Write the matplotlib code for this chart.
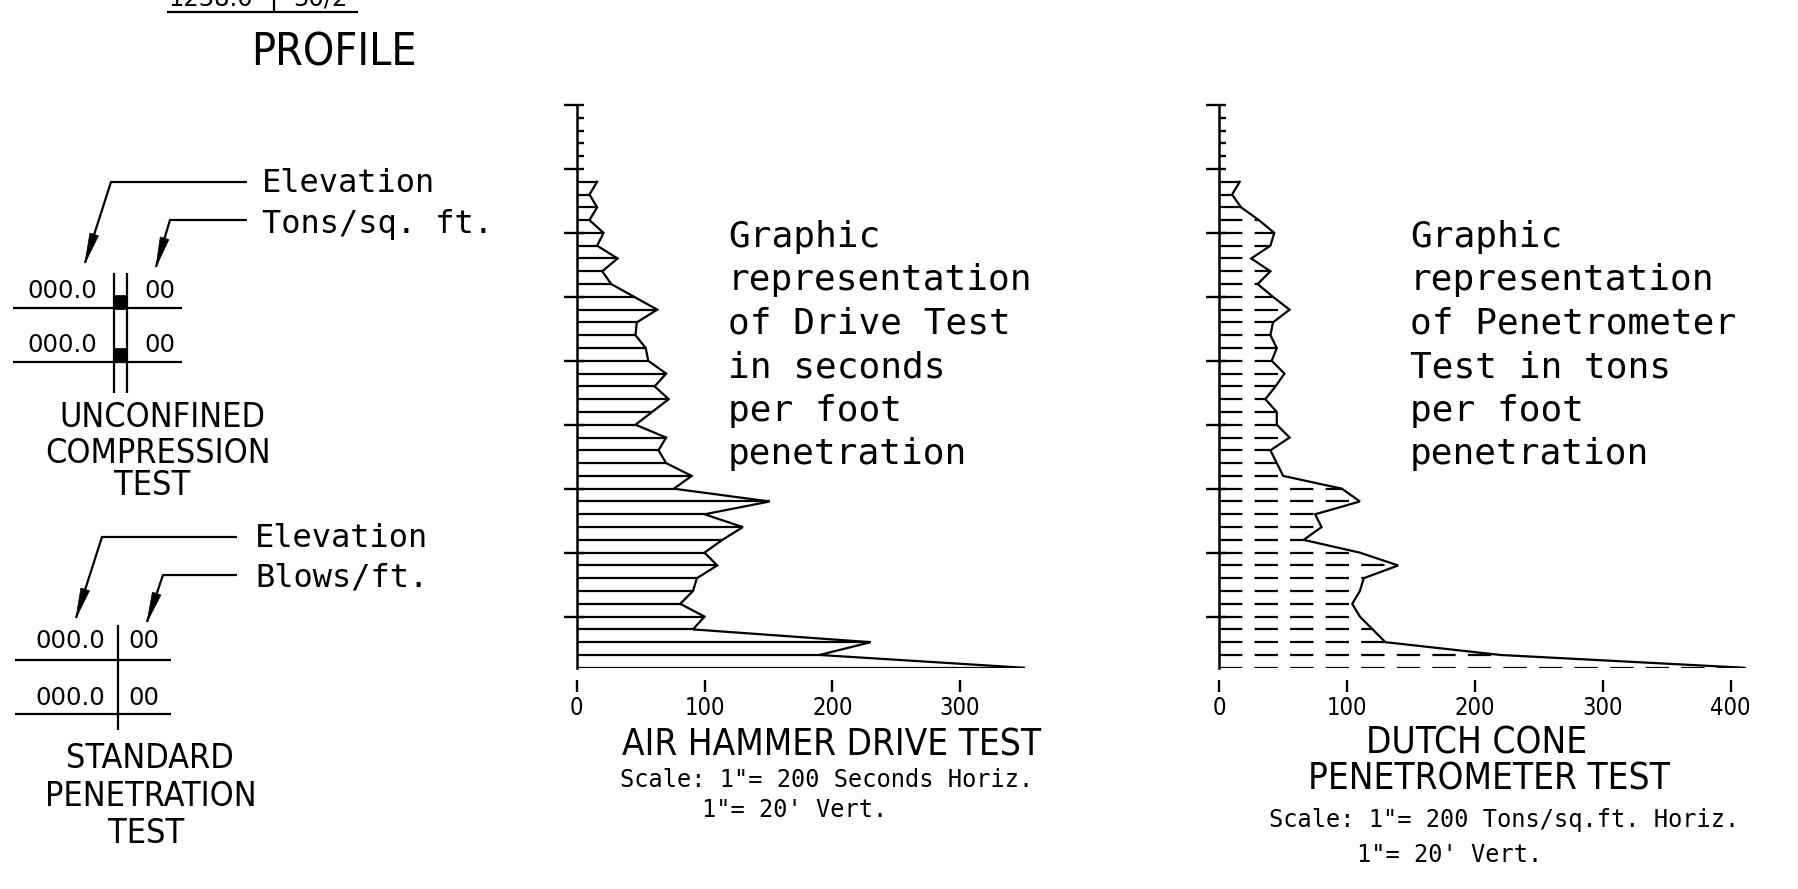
import matplotlib
matplotlib.use("Agg")
import matplotlib.pyplot as plt
from matplotlib import font_manager
from matplotlib.patches import Polygon, Rectangle
import numpy as np

plt.rcParams['lines.scale_dashes'] = False

W, H = 1798, 889

# one reading per foot, depth measured from top of the graph scale
depths = list(range(6, 45))
drive_seconds = [16, 10, 16, 10, 21, 16, 32, 20, 27, 45,
                 63, 47, 46, 54, 56, 70, 61, 72, 59, 46,
                 70, 64, 70, 90, 76, 151, 100, 130, 114, 100,
                 110, 94, 91, 81, 100, 91, 230, 190, 350]
cone_tons = [16, 10, 17, 31, 43, 40, 25, 40, 30, 42,
             55, 42, 40, 45, 41, 51, 44, 36, 45, 45,
             55, 40, 45, 50, 96, 110, 75, 80, 66, 110,
             140, 113, 110, 104, 110, 120, 130, 220, 411]
drive_ticks = [0, 100, 200, 300]
cone_ticks = [0, 100, 200, 300, 400]
major_depths = list(range(0, 41, 5))
minor_depths = [1, 2, 3, 4] + major_depths

drive_note = ["Graphic", "representation", "of Drive Test",
              "in seconds", "per foot", "penetration"]
cone_note = ["Graphic", "representation", "of Penetrometer",
             "Test in tons", "per foot", "penetration"]


def condensed_font():
    fonts = font_manager.fontManager.ttflist
    for f in fonts:
        if f.name == 'DejaVu Sans' and f.stretch == 'condensed':
            return dict(fontfamily='DejaVu Sans', fontstretch='condensed')
    names = {f.name for f in fonts}
    for n in ('Liberation Sans Narrow', 'Roboto Condensed', 'Open Sans Condensed'):
        if n in names:
            return dict(fontfamily=n)
    return dict(fontfamily='DejaVu Sans')


COND = condensed_font()
MONO = dict(fontfamily='DejaVu Sans Mono')
SANS = dict(fontfamily='DejaVu Sans')

PX = 1.278    # pixels per unit horizontally
PY = 12.79    # pixels per foot
Y_TOP, Y_BOT = 105, 105 + 44 * PY
LW = 1.6

fig = plt.figure(figsize=(W / 100, H / 100), dpi=100)
fig.patch.set_facecolor('white')

ov = fig.add_axes([0, 0, 1, 1])
ov.set_xlim(0, W)
ov.set_ylim(H, 0)
ov.axis('off')


def profile_axes(x0, values, ticks, dashed):
    ax = fig.add_axes([x0 / W, (H - Y_BOT) / H, 420 * PX / W, 44 * PY / H])
    ax.set_xlim(0, 420)
    ax.set_ylim(44, 0)
    ax.patch.set_visible(False)
    for s in ('top', 'right', 'bottom'):
        ax.spines[s].set_visible(False)
    ax.spines['bottom'].set_position(('outward', 12 * 0.72))
    ax.spines['left'].set_linewidth(1.8)

    ls = (0, (16.8, 8.8)) if dashed else 'solid'
    ax.hlines(depths, 0, values, colors='k', lw=LW, linestyles=ls)
    ax.plot(values, depths, color='k', lw=LW, solid_joinstyle='miter')

    ax.set_yticks(major_depths)
    ax.set_yticks(minor_depths, minor=True)
    ax.yaxis.remove_overlapping_locs = False
    ax.tick_params(axis='y', which='major', direction='out', length=9.6,
                   width=1.7, labelleft=False)
    ax.tick_params(axis='y', which='minor', direction='in', length=4.8,
                   width=1.7, labelleft=False)
    ax.set_xticks(ticks, [str(t) for t in ticks], fontsize=17, **COND)
    ax.tick_params(axis='x', direction='out', length=8.6, width=1.7, pad=3.2)
    return ax


profile_axes(576.7, drive_seconds, drive_ticks, dashed=False)
profile_axes(1219.3, cone_tons, cone_ticks, dashed=True)


def txt(x, y, s, size, font, ha='left'):
    ov.text(x, y, s, fontsize=size, ha=ha, va='baseline', color='k', **font)


def line(xs, ys, lw=LW):
    ov.plot(xs, ys, color='k', lw=lw, solid_joinstyle='miter', solid_capstyle='butt')


def leader(x_start, y, x_knee, tip):
    line([x_start, x_knee, tip[0]], [y, y, tip[1]])
    d = np.array([tip[0] - x_knee, tip[1] - y], float)
    u = d / np.hypot(*d)
    p = np.array([-u[1], u[0]])
    t = np.array(tip, float)
    base = t - 30 * u
    ov.add_patch(Polygon([t, base + 4.5 * p, base - 4.5 * p], closed=True,
                         facecolor='k', edgecolor='k', lw=0.5))


# cut-off profile table at the very top
line([167, 358], [12.3, 12.3])
line([274, 274], [0, 12.3])
txt(253, 6, "1238.0", 17.5, SANS, ha='right')
txt(293, 6, "30/2", 17.5, SANS)
txt(334, 65, "PROFILE", 32, COND, ha='center')

# unconfined compression legend
txt(262, 192, "Elevation", 23, MONO)
txt(262, 233, "Tons/sq. ft.", 23, MONO)
leader(247, 182, 111, (85, 263))
leader(247, 220, 170, (156, 267))
for yb in (298, 352):
    txt(97, yb, "000.0", 17.5, SANS, ha='right')
    txt(144, yb, "00", 17.5, SANS)
for yl in (308, 362):
    line([13, 182], [yl, yl])
line([114, 114], [273, 393])
line([127, 127], [273, 393])
for y0 in (295, 348):
    ov.add_patch(Rectangle((114, y0), 13, 13.5, facecolor='k', edgecolor='k', lw=0.5))
txt(162, 427, "UNCONFINED", 24.5, COND, ha='center')
txt(158, 463, "COMPRESSION", 24.5, COND, ha='center')
txt(152, 495, "TEST", 24.5, COND, ha='center')

# standard penetration legend
txt(255, 547, "Elevation", 23, MONO)
txt(255, 587, "Blows/ft.", 23, MONO)
leader(237, 537, 102, (76, 618))
leader(237, 575, 163, (147, 622))
for yb in (648, 705):
    txt(105, yb, "000.0", 17.5, SANS, ha='right')
    txt(128, yb, "00", 17.5, SANS)
for yl in (660, 714):
    line([15, 171], [yl, yl])
line([118, 118], [625, 730])
txt(150, 768, "STANDARD", 24.5, COND, ha='center')
txt(151, 806, "PENETRATION", 24.5, COND, ha='center')
txt(146, 843, "TEST", 24.5, COND, ha='center')

# notes beside the graphs
for i, (a, b) in enumerate(zip(drive_note, cone_note)):
    txt(728, 246.7 + 43.5 * i, a, 26, MONO)
    txt(1410, 246.7 + 43.5 * i, b, 26, MONO)

# graph titles
txt(832, 755, "AIR HAMMER DRIVE TEST", 26.5, COND, ha='center')
txt(827, 787, "Scale: 1\"= 200 Seconds Horiz.", 17, MONO, ha='center')
txt(795, 817, "1\"= 20' Vert.", 17, MONO, ha='center')
txt(1477, 754, "DUTCH CONE", 26.5, COND, ha='center')
txt(1489, 790, "PENETROMETER TEST", 26.5, COND, ha='center')
txt(1504, 827, "Scale: 1\"= 200 Tons/sq.ft. Horiz.", 17, MONO, ha='center')
txt(1450, 862, "1\"= 20' Vert.", 17, MONO, ha='center')

fig.savefig("out.png", dpi=100, facecolor='white')
